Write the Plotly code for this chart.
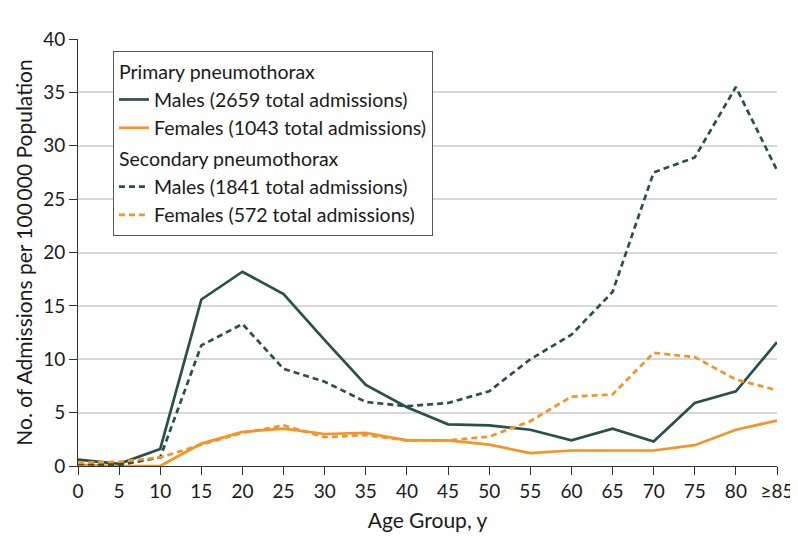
import plotly.graph_objects as go

ages = ["0", "5", "10", "15", "20", "25", "30", "35", "40", "45", "50", "55", "60", "65", "70", "75", "80", "≥85"]
primary_males = [0.6, 0.2, 1.6, 15.6, 18.2, 16.1, 11.8, 7.6, 5.5, 3.9, 3.8, 3.4, 2.4, 3.5, 2.3, 5.9, 7.0, 11.6]
primary_females = [0.1, 0.0, 0.0, 2.1, 3.2, 3.5, 3.0, 3.1, 2.4, 2.4, 2.0, 1.2, 1.45, 1.45, 1.45, 1.95, 3.4, 4.25]
secondary_males = [0.2, 0.1, 0.8, 11.3, 13.3, 9.1, 7.9, 6.0, 5.6, 5.9, 7.0, 10.0, 12.3, 16.3, 27.5, 28.9, 35.5, 27.7]
secondary_females = [0.3, 0.4, 0.8, 2.0, 3.1, 3.8, 2.7, 2.9, 2.4, 2.4, 2.75, 4.2, 6.5, 6.7, 10.6, 10.2, 8.1, 7.1]
y_ticks = [0, 5, 10, 15, 20, 25, 30, 35, 40]

TEAL = "#2b4f4b"
ORANGE = "#f39425"
TEXTF = "Lato, Noto Sans, sans-serif"

fig = go.Figure()
fig.add_trace(go.Scatter(x=ages, y=primary_males, mode="lines", name="Males (2659 total admissions)",
                         line=dict(color=TEAL, width=2.7), legendgroup="p",
                         legendgrouptitle=dict(text="Primary pneumothorax")))
fig.add_trace(go.Scatter(x=ages, y=primary_females, mode="lines", name="Females (1043 total admissions)",
                         line=dict(color=ORANGE, width=2.7), legendgroup="p"))
fig.add_trace(go.Scatter(x=ages, y=secondary_males, mode="lines", name="Males (1841 total admissions)",
                         line=dict(color=TEAL, width=2.7, dash="6px,4px"), legendgroup="s",
                         legendgrouptitle=dict(text="Secondary pneumothorax")))
fig.add_trace(go.Scatter(x=ages, y=secondary_females, mode="lines", name="Females (572 total admissions)",
                         line=dict(color=ORANGE, width=2.7, dash="6px,4px"), legendgroup="s"))

fig.update_layout(
    width=798, height=543,
    margin=dict(l=70, r=21, t=31, b=85),
    paper_bgcolor="white", plot_bgcolor="white",
    font=dict(family=TEXTF, size=19.5, color="#1a1a1a"),
    showlegend=True,
    legend=dict(x=0.05, y=0.972, xanchor="left", yanchor="top",
                bgcolor="white", bordercolor="#555555", borderwidth=1,
                font=dict(family=TEXTF, size=19.5, color="#1a1a1a"),
                grouptitlefont=dict(family=TEXTF, size=19.5, color="#1a1a1a"),
                traceorder="grouped", tracegroupgap=2),
    xaxis=dict(type="category", range=[0, 17], showgrid=False,
               showline=True, linecolor="#333333", linewidth=1,
               ticks="outside", ticklen=8, tickcolor="#333333",
               tickfont=dict(family=TEXTF, size=19, color="#1a1a1a"),
               title=dict(text="Age Group, y", font=dict(family=TEXTF, size=21), standoff=12)),
    yaxis=dict(range=[0, 40], tickvals=y_ticks, showgrid=True, gridcolor="#d8d8d8", gridwidth=1.5,
               showline=True, linecolor="#333333", linewidth=1,
               ticks="outside", ticklen=8, tickcolor="#333333", zeroline=False,
               tickfont=dict(family=TEXTF, size=19, color="#1a1a1a"),
               title=dict(text="No. of Admissions per 100\u2009000 Population",
                          font=dict(family=TEXTF, size=21), standoff=4)),
)

fig.write_html("out.html")
